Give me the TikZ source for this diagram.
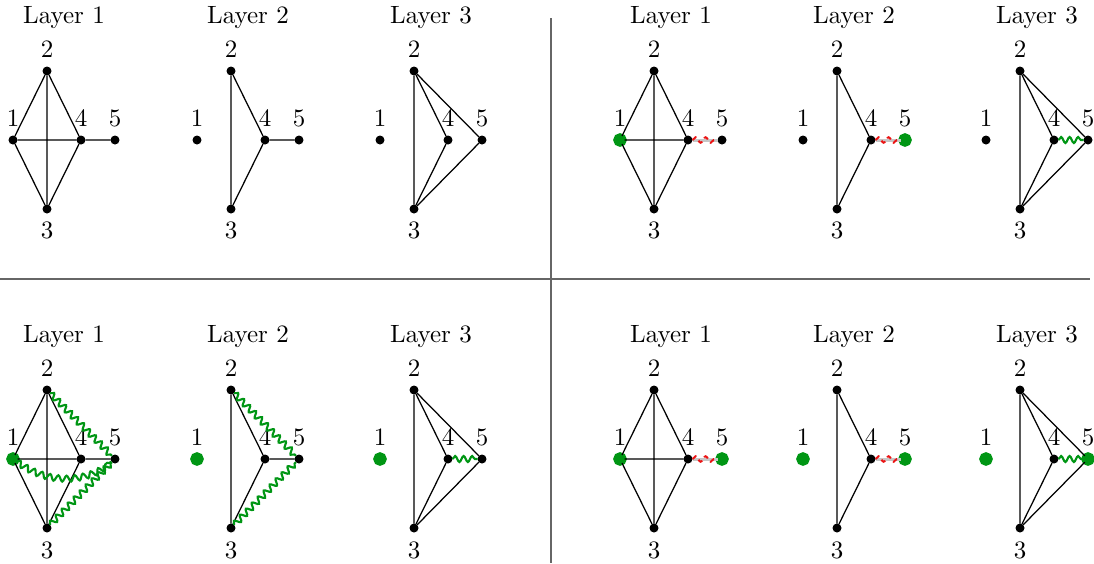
\documentclass[tikz,border=0pt]{standalone}
\usepackage{amsmath,amssymb}
\usepackage{tikz}
\usetikzlibrary{arrows.meta,shapes,positioning,decorations.pathmorphing}
\definecolor{mergegreen}{RGB}{0,150,20}
\definecolor{cutred}{RGB}{235,20,20}

\tikzset{
  vert/.style={circle, fill=black, inner sep=0pt, outer sep=0pt, minimum size=3.6pt},
  gvert/.style={fill=mergegreen, draw=mergegreen, line width=1.8pt},
  v1/.style={}, v2/.style={}, v3/.style={}, v4/.style={}, v5/.style={},
  edge/.style={line width=0.5pt},
  greensnake/.style={mergegreen, line width=0.85pt, decorate,
    decoration={snake, amplitude=1.2pt, segment length=3.4pt}},
  cutline/.style={gray!45, line width=1.2pt},
  redsnake/.style={cutred, line width=0.8pt, dash pattern=on 2pt off 1.5pt, decorate,
    decoration={snake, amplitude=1.1pt, segment length=4pt}},
  divider/.style={gray!80!black, line width=0.6pt}
}

\begin{document}
\begin{tikzpicture}[x=0.4pt, y=-0.4pt]
  \useasboundingbox (0,0) rectangle (1094,563);

  % Dividers
  \draw[divider] (551,18) -- (551,563);
  \draw[divider] (0,279) -- (1090,279);

  % ---------- top left ----------
  \begin{scope}[shift={(13,140)}]
    \node (t) at (51,-122) {Layer 1};
    \foreach \n/\x/\y/\s in {1/0/0/above,2/34/-69/above,3/34/69/below,4/68/0/above,5/102/0/above}
      \node[vert, v\n, label=\s:\n] (v\n) at (\x,\y) {};
    \draw[edge] (v1) -- (v2) (v1) -- (v3) (v2) -- (v3) (v1) -- (v4)
                (v2) -- (v4) (v3) -- (v4) (v4) -- (v5);
  \end{scope}
  \begin{scope}[shift={(197,140)}]
    \node (t) at (51,-122) {Layer 2};
    \foreach \n/\x/\y/\s in {1/0/0/above,2/34/-69/above,3/34/69/below,4/68/0/above,5/102/0/above}
      \node[vert, v\n, label=\s:\n] (v\n) at (\x,\y) {};
    \draw[edge] (v2) -- (v3) (v2) -- (v4) (v3) -- (v4) (v4) -- (v5);
  \end{scope}
  \begin{scope}[shift={(380,140)}]
    \node (t) at (51,-122) {Layer 3};
    \foreach \n/\x/\y/\s in {1/0/0/above,2/34/-69/above,3/34/69/below,4/68/0/above,5/102/0/above}
      \node[vert, v\n, label=\s:\n] (v\n) at (\x,\y) {};
    \draw[edge] (v2) -- (v3) (v2) -- (v4) (v3) -- (v4) (v2) -- (v5) (v3) -- (v5);
  \end{scope}

  % ---------- top right ----------
  \begin{scope}[shift={(620,140)}, v1/.style={gvert}]
    \node (t) at (51,-122) {Layer 1};
    \foreach \n/\x/\y/\s in {1/0/0/above,2/34/-69/above,3/34/69/below,4/68/0/above,5/102/0/above}
      \node[vert, v\n, label=\s:\n] (v\n) at (\x,\y) {};
    \draw[edge] (v1) -- (v2) (v1) -- (v3) (v2) -- (v3) (v1) -- (v4)
                (v2) -- (v4) (v3) -- (v4);
    \draw[cutline] (v4) -- (v5);
    \draw[redsnake] (v4) -- (v5);
  \end{scope}
  \begin{scope}[shift={(803,140)}, v5/.style={gvert}]
    \node (t) at (51,-122) {Layer 2};
    \foreach \n/\x/\y/\s in {1/0/0/above,2/34/-69/above,3/34/69/below,4/68/0/above,5/102/0/above}
      \node[vert, v\n, label=\s:\n] (v\n) at (\x,\y) {};
    \draw[edge] (v2) -- (v3) (v2) -- (v4) (v3) -- (v4);
    \draw[cutline] (v4) -- (v5);
    \draw[redsnake] (v4) -- (v5);
  \end{scope}
  \begin{scope}[shift={(986,140)}]
    \node (t) at (51,-122) {Layer 3};
    \foreach \n/\x/\y/\s in {1/0/0/above,2/34/-69/above,3/34/69/below,4/68/0/above,5/102/0/above}
      \node[vert, v\n, label=\s:\n] (v\n) at (\x,\y) {};
    \draw[edge] (v2) -- (v3) (v2) -- (v4) (v3) -- (v4) (v2) -- (v5) (v3) -- (v5);
    \draw[greensnake] (v4) -- (v5);
  \end{scope}

  % ---------- bottom left ----------
  \begin{scope}[shift={(13,459)}, v1/.style={gvert}]
    \node (t) at (51,-122) {Layer 1};
    \foreach \n/\x/\y/\s in {1/0/0/above,2/34/-69/above,3/34/69/below,4/68/0/above,5/102/0/above}
      \node[vert, v\n, label=\s:\n] (v\n) at (\x,\y) {};
    \draw[edge] (v1) -- (v2) (v1) -- (v3) (v2) -- (v3) (v1) -- (v4)
                (v2) -- (v4) (v3) -- (v4) (v4) -- (v5);
    \draw[greensnake] (v2) -- (v5);
    \draw[greensnake] (v3) -- (v5);
    \draw[greensnake] (v1) to[bend right=35] (v5);
  \end{scope}
  \begin{scope}[shift={(197,459)}, v1/.style={gvert}]
    \node (t) at (51,-122) {Layer 2};
    \foreach \n/\x/\y/\s in {1/0/0/above,2/34/-69/above,3/34/69/below,4/68/0/above,5/102/0/above}
      \node[vert, v\n, label=\s:\n] (v\n) at (\x,\y) {};
    \draw[edge] (v2) -- (v3) (v2) -- (v4) (v3) -- (v4) (v4) -- (v5);
    \draw[greensnake] (v2) -- (v5);
    \draw[greensnake] (v3) -- (v5);
  \end{scope}
  \begin{scope}[shift={(380,459)}, v1/.style={gvert}]
    \node (t) at (51,-122) {Layer 3};
    \foreach \n/\x/\y/\s in {1/0/0/above,2/34/-69/above,3/34/69/below,4/68/0/above,5/102/0/above}
      \node[vert, v\n, label=\s:\n] (v\n) at (\x,\y) {};
    \draw[edge] (v2) -- (v3) (v2) -- (v4) (v3) -- (v4) (v2) -- (v5) (v3) -- (v5);
    \draw[greensnake] (v4) -- (v5);
  \end{scope}

  % ---------- bottom right ----------
  \begin{scope}[shift={(620,459)}, v1/.style={gvert}, v5/.style={gvert}]
    \node (t) at (51,-122) {Layer 1};
    \foreach \n/\x/\y/\s in {1/0/0/above,2/34/-69/above,3/34/69/below,4/68/0/above,5/102/0/above}
      \node[vert, v\n, label=\s:\n] (v\n) at (\x,\y) {};
    \draw[edge] (v1) -- (v2) (v1) -- (v3) (v2) -- (v3) (v1) -- (v4)
                (v2) -- (v4) (v3) -- (v4);
    \draw[cutline] (v4) -- (v5);
    \draw[redsnake] (v4) -- (v5);
  \end{scope}
  \begin{scope}[shift={(803,459)}, v1/.style={gvert}, v5/.style={gvert}]
    \node (t) at (51,-122) {Layer 2};
    \foreach \n/\x/\y/\s in {1/0/0/above,2/34/-69/above,3/34/69/below,4/68/0/above,5/102/0/above}
      \node[vert, v\n, label=\s:\n] (v\n) at (\x,\y) {};
    \draw[edge] (v2) -- (v3) (v2) -- (v4) (v3) -- (v4);
    \draw[cutline] (v4) -- (v5);
    \draw[redsnake] (v4) -- (v5);
  \end{scope}
  \begin{scope}[shift={(986,459)}, v1/.style={gvert}, v5/.style={gvert}]
    \node (t) at (51,-122) {Layer 3};
    \foreach \n/\x/\y/\s in {1/0/0/above,2/34/-69/above,3/34/69/below,4/68/0/above,5/102/0/above}
      \node[vert, v\n, label=\s:\n] (v\n) at (\x,\y) {};
    \draw[edge] (v2) -- (v3) (v2) -- (v4) (v3) -- (v4) (v2) -- (v5) (v3) -- (v5);
    \draw[greensnake] (v4) -- (v5);
  \end{scope}
\end{tikzpicture}
\end{document}
